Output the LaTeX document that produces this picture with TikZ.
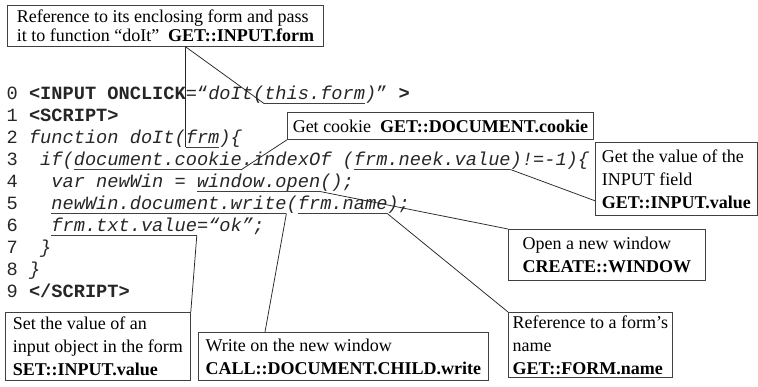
\documentclass[tikz,border=0pt]{standalone}
\usepackage{fontspec}
\setmainfont{Liberation Serif}
\newfontfamily\codefont{Liberation Mono}[WordSpace={1,0,0}]
\usetikzlibrary{calc}
\begin{document}
\frenchspacing
\begin{tikzpicture}[x=1pt,y=-1pt,
  codeline/.style={anchor=base west, inner sep=0pt, text=black!85,
    font=\codefont\fontsize{18.67}{22}\selectfont},
  note/.style={draw=black!75, line width=0.8pt, anchor=north west, align=left,
    inner xsep=4pt, inner ysep=0pt, text=black,
    font=\fontsize{18}{23}\selectfont},
  leader/.style={black!85, line width=0.75pt},
  uline/.style={black!75, line width=0.75pt}]
\useasboundingbox (0,0) rectangle (758,387);

% ---- source listing (column c starts at 6.4+11.2c, line i baseline at 100+22i)
\node[codeline] (l0) at (6.4,100) {0 \textbf{<INPUT ONCLICK}=“\textit{doIt(this.form)}”\textbf{ >}};
\node[codeline] (l1) at (6.4,122) {1 \textbf{<SCRIPT>}};
\node[codeline] (l2) at (6.4,144) {2 \textit{function doIt(frm)\{}};
\node[codeline] (l3) at (6.4,166) {3\ \ \textit{if(document.cookie.indexOf (frm.neek.value)!=-1)\{}};
\node[codeline] (l4) at (6.4,188) {4\ \ \ \textit{var newWin = window.open();}};
\node[codeline] (l5) at (6.4,210) {5\ \ \ \textit{newWin.document.write(frm.name);}};
\node[codeline] (l6) at (6.4,232) {6\ \ \ \textit{frm.txt.value=“ok”;}};
\node[codeline] (l7) at (6.4,254) {7\ \ \textit{\}}};
\node[codeline] (l8) at (6.4,276) {8 \textit{\}}};
\node[codeline] (l9) at (6.4,298) {9 \textbf{</SCRIPT>}};

% ---- underlined tokens
\coordinate (thisA) at ({6.4+11.2*23},103.5);  \coordinate (thisB) at ({6.4+11.2*32},103.5);
\coordinate (frmA)  at ({6.4+11.2*16},147.5);  \coordinate (frmB)  at ({6.4+11.2*19},147.5);
\coordinate (cookA) at ({6.4+11.2*6},169.5);   \coordinate (cookB) at ({6.4+11.2*21},169.5);
\coordinate (neekA) at ({6.4+11.2*31},169.5);  \coordinate (neekB) at ({6.4+11.2*45},169.5);
\coordinate (winA)  at ({6.4+11.2*17},191.5);  \coordinate (winB)  at ({6.4+11.2*28},191.5);
\coordinate (wrA)   at ({6.4+11.2*4},213.5);   \coordinate (wrB)   at ({6.4+11.2*25},213.5);
\coordinate (nmA)   at ({6.4+11.2*26},213.5);  \coordinate (nmB)   at ({6.4+11.2*34},213.5);
\coordinate (txtA)  at ({6.4+11.2*4},235.5);   \coordinate (txtB)  at ({6.4+11.2*17},235.5);
\foreach \a/\b in {thisA/thisB,frmA/frmB,cookA/cookB,neekA/neekB,winA/winB,wrA/wrB,nmA/nmB,txtA/txtB}
  \draw[uline] (\a) -- (\b);

% ---- annotation boxes
\node[note, minimum width=316pt, minimum height=41pt,
  font=\fontsize{18}{19.5}\selectfont] (B0) at (7,5)
  {Reference to its enclosing form and pass\\it to function “doIt”\ \ \textbf{GET::INPUT.form}};
\node[note, minimum width=306pt, minimum height=27pt] (B1) at (287,112)
  {Get cookie\ \ \textbf{GET::DOCUMENT.cookie}};
\node[note, minimum width=162pt, minimum height=73pt, inner xsep=3pt] (B2) at (595,142)
  {Get the value of the\\INPUT field\\\textbf{GET::INPUT.value}};
\node[note, minimum width=197pt, minimum height=51pt, inner xsep=6pt] (B3) at (508,229)
  {Open a new window\\\textbf{CREATE::WINDOW}};
\node[note, minimum width=164pt, minimum height=65pt, inner xsep=3pt] (B4) at (508,312)
  {Reference to a form’s\\name\\\textbf{GET::FORM.name}};
\node[note, minimum width=290pt, minimum height=48pt, inner xsep=5pt] (B5) at (198,332)
  {Write on the new window\\\textbf{CALL::DOCUMENT.CHILD.write}};
\node[note, minimum width=185pt, minimum height=68pt, inner xsep=3pt] (B6) at (5,312)
  {Set the value of an\\input object in the form\\\textbf{SET::INPUT.value}};

% ---- leaders from the boxes to the underlined tokens
\draw[leader] (B0.south -| frmA) -- (frmA);
\draw[leader] (B0.south -| frmA) -- (thisA);
\draw[leader] (B1.south west) -- (cookB);
\draw[leader] ($(B2.south west)+(0,-15)$) -- (neekB);
\draw[leader] (winB) -- (B3.north west);
\draw[leader] (wrB) -- ($(B5.north west)+(67,0)$);
\draw[leader] (nmB) -- (B4.north west);
\draw[leader] (txtB) -- (B6.north east);
\end{tikzpicture}
\end{document}
